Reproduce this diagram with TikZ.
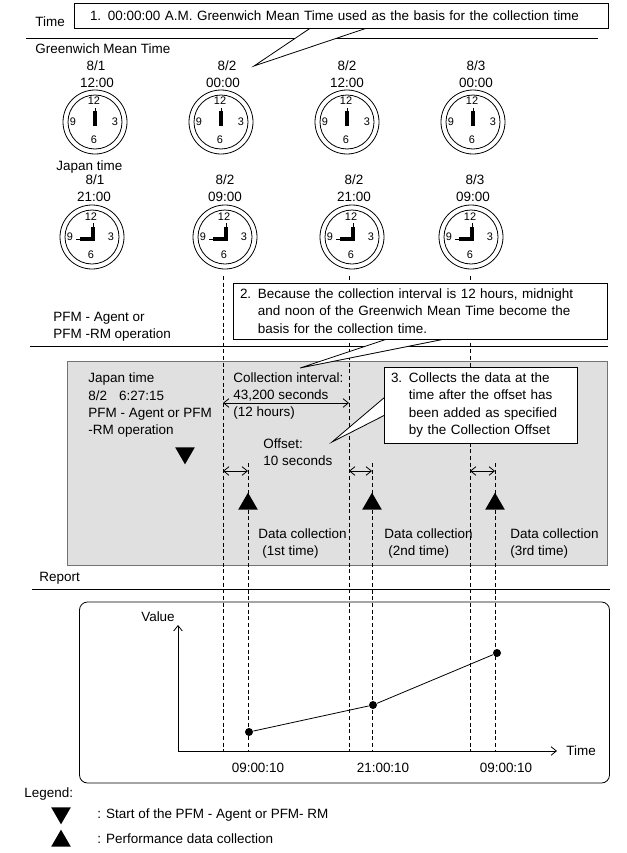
\documentclass[tikz,border=0pt]{standalone}
\usepackage{fontspec}
\setmainfont{Liberation Sans}
\usepackage{tikz}
\usetikzlibrary{arrows.meta,shapes.geometric}

\tikzset{
  >={Straight Barb[length=4pt,width=6.5pt]},
  every path/.style={line width=0.6pt},
  lbl/.style={font=\fontsize{10.1}{12}\selectfont,inner sep=0pt,text height=7pt,text depth=0.2pt},
  lab/.style={lbl,anchor=west},
  smallnum/.style={font=\fontsize{8.2}{9}\selectfont,inner sep=0pt},
  rule/.style={line width=0.7pt},
  dashline/.style={dash pattern=on 3pt off 2pt},
  callbox/.style={draw,fill=white,align=left,inner ysep=0pt,inner xsep=5.25pt,font=\fontsize{10.1}{12.9}\selectfont},
  calltail/.style={draw,fill=white},
  upmark/.style={isosceles triangle,isosceles triangle apex angle=60,isosceles triangle stretches,shape border rotate=90,fill=black,inner sep=0pt,minimum height=12.75pt,minimum width=14.75pt},
  downmark/.style={upmark,shape border rotate=-90},
  dot/.style={circle,fill=black,inner sep=0pt,minimum size=6pt}
}

\begin{document}
\begin{tikzpicture}[x=0.75pt,y=-0.75pt]
\useasboundingbox (0,0) rectangle (626,853);

\node[fill=black!12,draw=black!55,minimum width=405pt,minimum height=153pt,inner sep=0pt] at (337,463) (panel) {};

\coordinate (r1a) at (26,38);
\coordinate (r1b) at (598,38);
\coordinate (r2a) at (30,346);
\coordinate (r2b) at (608,346);
\coordinate (r3a) at (32,589);
\coordinate (r3b) at (610,589);
\draw[rule] (r1a) -- (r1b);
\draw[rule] (r2a) -- (r2b);
\draw[rule] (r3a) -- (r3b);

\foreach \n/\cx in {a/223,b/349,c/470} {
  \coordinate (top\n) at (\cx,276);
  \coordinate (bot\n) at (\cx,751);
  \draw[dashline] (top\n) -- (bot\n);
}
\foreach \n/\cx in {a/248,b/372,c/495} {
  \coordinate (dtop\n) at (\cx,463);
  \coordinate (dbot\n) at (\cx,751);
  \draw[dashline] (dtop\n) -- (dbot\n);
}

\node[lab] at (35,22) (timehead) {Time};
\node[lab] at (35,49) (gmthead) {Greenwich Mean Time};
\node[lab] at (56,166) (japanhead) {Japan time};
\node[lab] at (53,317) (opa) {PFM - Agent or};
\node[lab] at (53,334) (opb) {PFM -RM operation};
\node[lab] at (39,577) (reporthead) {Report};

\foreach \n/\cx/\dx/\tx/\dd/\hh in {a/95/96/97/8\slash1/12:00,b/221/227/223/8\slash2/00:00,c/347/347/347/8\slash2/12:00,d/473/476/476/8\slash3/00:00} {
  \node[lbl] at (\dx,66) (gd\n) {\dd};
  \node[lbl] at (\tx,83) (gt\n) {\hh};
  \begin{scope}[shift={(\cx,122)}]
    \draw (0,0) circle (32);
    \draw (0,0) circle (27);
    \node[smallnum] at (-1,-21) (gtw\n) {12};
    \node[smallnum] at (20,0) (gth\n) {3};
    \node[smallnum] at (-1,18) (gsi\n) {6};
    \node[smallnum] at (-22,0) (gni\n) {9};
    \draw[line width=0.7pt] (0,-14) -- (0,-10);
    \draw[line width=2.4pt] (0,-11) -- (0,4);
  \end{scope}
}
\foreach \n/\cx/\dx/\tx/\dd/\hh in {a/92/95/94/8\slash1/21:00,b/225/225/225/8\slash2/09:00,c/352/354/354/8\slash2/21:00,d/471/475/473/8\slash3/09:00} {
  \node[lbl] at (\dx,180) (jd\n) {\dd};
  \node[lbl] at (\tx,197) (jt\n) {\hh};
  \begin{scope}[shift={(\cx,237)}]
    \draw (0,0) circle (32);
    \draw (0,0) circle (27);
    \node[smallnum] at (-1,-20) (jtw\n) {12};
    \node[smallnum] at (19,0) (jth\n) {3};
    \node[smallnum] at (-1,18) (jsi\n) {6};
    \node[smallnum] at (-22,0) (jni\n) {9};
    \draw[line width=0.7pt] (1,-14) -- (1,-10);
    \draw[line width=2.4pt] (1,-10) -- (1,4);
    \draw[line width=0.7pt] (-16,2) -- (-12,2);
    \draw[line width=2.4pt] (-12,2) -- (2,2);
  \end{scope}
}

\node[lab] at (88,378) (ja) {Japan time};
\node[lab] at (88,396) (jb) {8/2\hspace{0.9em}6:27:15};
\node[lab] at (88,413) (jc) {PFM - Agent or PFM};
\node[lab] at (88,430) (jd) {-RM operation};
\node[downmark] at (185,453) (startmark) {};

\node[lab] at (233,378) (cia) {Collection interval:};
\node[lab] at (233,395) (cib) {43,200 seconds};
\node[lab] at (233,412) (cic) {(12 hours)};
\node[lab] at (263,444) (ofa) {Offset:};
\node[lab] at (263,461) (ofb) {10 seconds};
\coordinate (ivala) at (223,403);
\coordinate (ivalb) at (349,403);
\draw[<->] (ivala) -- (ivalb);

\foreach \n/\xa/\xb/\xl/\xm/\tm in {a/223/248/258/262/1st,b/349/372/384/388/2nd,c/470/495/510/510/3rd} {
  \coordinate (ofl\n) at (\xa,471);
  \coordinate (ofr\n) at (\xb,471);
  \draw[<->] (ofl\n) -- (ofr\n);
  \node[upmark] at (\xb,504) (colmark\n) {};
  \node[lab] at (\xl,534) (dca\n) {Data collection};
  \node[lab] at (\xm,551) (dcb\n) {(\tm\ time)};
}

\coordinate (tailonea) at (312,27);
\coordinate (tailonet) at (254,66);
\coordinate (tailoneb) at (370,27);
\path[calltail] (tailonea) -- (tailonet) -- (tailoneb) -- cycle;
\node[callbox,inner xsep=12pt,text width=376.5pt,minimum height=18.75pt] at (341,15.5) (callone) {1. 00:00:00 A.M. Greenwich Mean Time used as the basis for the collection time};

\coordinate (tailtwoa) at (390,338);
\coordinate (tailtwot) at (300,368);
\coordinate (tailtwob) at (450,338);
\path[calltail] (tailtwoa) -- (tailtwot) -- (tailtwob) -- cycle;
\node[callbox,text width=270pt,minimum height=42pt] at (420,311) (calltwo) {2. Because the collection interval is 12 hours, midnight\\\phantom{2. }and noon of the Greenwich Mean Time become the\\\phantom{2. }basis for the collection time.};

\coordinate (tailthreea) at (385,397);
\coordinate (tailthreet) at (332,442);
\coordinate (tailthreeb) at (385,415);
\path[calltail] (tailthreea) -- (tailthreet) -- (tailthreeb) -- cycle;
\node[callbox,text width=134.25pt,minimum height=57pt] at (480.5,405) (callthree) {3. Collects the data at the\\\phantom{3. }time after the offset has\\\phantom{3. }been added as specified\\\phantom{3. }by the Collection Offset};

\node[draw,rounded corners=6pt,minimum width=397.5pt,minimum height=135.75pt,inner sep=0pt] at (344.5,692.5) (reportbox) {};
\coordinate (origin) at (178,751);
\coordinate (ytip) at (178,625);
\coordinate (xtip) at (557,751);
\draw[->] (origin) -- (ytip);
\draw[->] (origin) -- (xtip);
\node[lbl] at (158,617) (valuelab) {Value};
\node[lab] at (566,751) (timelab) {Time};
\node[dot] at (249,732) (pa) {};
\node[dot] at (373,705) (pb) {};
\node[dot] at (497,653) (pc) {};
\draw (pa) -- (pb) -- (pc);
\node[lbl] at (258,768) (tla) {09:00:10};
\node[lbl] at (383,768) (tlb) {21:00:10};
\node[lbl] at (506,768) (tlc) {09:00:10};

\node[lab] at (24,793) (legendhead) {Legend:};
\node[downmark] at (61,813) (legdown) {};
\node[upmark] at (61,841) (legup) {};
\node[lab] at (97,814) (legstart) {: Start of the PFM - Agent or PFM- RM};
\node[lab] at (97,839) (legperf) {: Performance data collection};
\end{tikzpicture}
\end{document}
